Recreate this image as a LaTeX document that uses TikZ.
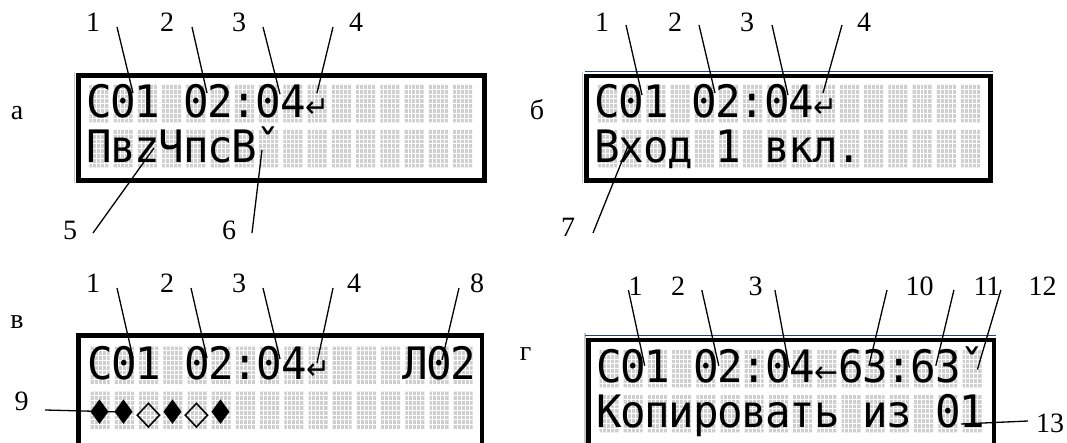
\documentclass[tikz,border=0pt]{standalone}
\usepackage{fontspec}
\setmainfont{Liberation Serif}
\newfontfamily\lcdfont{DejaVu Sans Mono}
\newfontfamily\symfont{DejaVu Sans}
\definecolor{lcdoff}{HTML}{CFCFCF}
\definecolor{navyline}{HTML}{24407A}
\definecolor{winedge}{HTML}{C8C8C8}
\tikzset{
  frame/.style={line width=4.5pt, line join=miter},
  leader/.style={line width=1.3pt},
  lbl/.style={anchor=base, inner sep=0pt, font=\fontsize{28}{28}\selectfont},
  lcdch/.style={anchor=base, inner sep=0pt, font=\lcdfont\fontsize{44.7}{44.7}\selectfont},
}
\newcommand\ret{{\symfont\fontsize{30}{30}\selectfont ↵}}
\newcommand\larr{{\symfont\fontsize{30}{30}\selectfont ←}}
\newcommand\crt{ˇ}
\newcommand\dia{{\symfont\fontsize{34}{34}\selectfont ♦}}
\newcommand\odia{{\symfont\fontsize{34}{34}\selectfont ◇}}
% grid of unlit dots: #1 x0, #2 row top, #3 pitch
\newcommand\lcdgrid[3]{%
  \fill[lcdoff] \foreach \c in {0,...,15} {({#1+\c*#3},#2) rectangle ++(19,37.4)};
  \draw[white,line width=1pt] \foreach \c in {0,...,15} {\foreach \d in {1,...,4} {({#1+\c*#3+\d*3.95-0.5},#2) -- ++(0,37.4)}};
  \draw[white,line width=1pt] \foreach \r in {1,...,7} {(#1,{#2+\r*4.8-0.5}) -- ++({16*#3},0)};
}
% characters: #1 name prefix, #2 x0, #3 pitch, #4 row top, #5 list
\newcommand\lcdrow[5]{%
  \foreach \ch [count=\i from 0] in {#5} {\node[lcdch] (#1\i) at ({#2+\i*#3+9.5},{#4+32.6}) {\scalebox{0.95}[1]{\ch}};}
}
\begin{document}
\begin{tikzpicture}[x=1pt,y=-1pt]
\fill[white] (0,0) rectangle (1067,443);
\useasboundingbox (0,0) rectangle (1067,443);

% ---------------- panel a ----------------
\draw[winedge,line width=1.2pt] (74.5,72) -- (74.5,183);
\lcdgrid{89.3}{85}{24.25}
\lcdgrid{89.3}{130}{24.25}
\lcdrow{Ar}{89.3}{24.25}{85}{C,0,1,,0,2,:,0,4,\ret}
\lcdrow{As}{89.3}{24.25}{130}{П,в,z,Ч,п,с,В,\crt}
\draw[frame] (78.5,75.5) rectangle (484.5,180.5);
\node[lbl] (La) at (17,120) {а};
\node[lbl] (a1) at (93,32) {1};
\node[lbl] (a2) at (167,32) {2};
\node[lbl] (a3) at (239,32) {3};
\node[lbl] (a4) at (356,32) {4};
\node[lbl] (a5) at (70,240) {5};
\node[lbl] (a6) at (229,240) {6};
\coordinate (a1s) at (117,27); \coordinate (a1e) at (133,93);
\coordinate (a2s) at (192,27); \coordinate (a2e) at (207,93);
\coordinate (a3s) at (263,27); \coordinate (a3e) at (280,94);
\coordinate (a4s) at (333,27); \coordinate (a4e) at (317,93);
\coordinate (a5s) at (93,233); \coordinate (a5e) at (154,148);
\coordinate (a6s) at (252,233); \coordinate (a6e) at (262,150);
\foreach \k in {1,...,6} {\draw[leader] (a\k s) -- (a\k e);}

% ---------------- panel b ----------------
\draw[winedge,line width=1.2pt] (582.5,72) -- (582.5,183);
\draw[navyline,line width=1pt] (585,71.5) -- (993,71.5);
\lcdgrid{598}{85}{24.2}
\lcdgrid{598}{130}{24.2}
\lcdrow{Br}{598}{24.2}{85}{C,0,1,,0,2,:,0,4,\ret}
\lcdrow{Bs}{598}{24.2}{130}{В,х,о,д,,1,,в,к,л,.}
\draw[frame] (586.5,76) rectangle (990.5,180.5);
\node[lbl] (Lb) at (537,120) {б};
\node[lbl] (b1) at (602,32) {1};
\node[lbl] (b2) at (675,32) {2};
\node[lbl] (b3) at (747,32) {3};
\node[lbl] (b4) at (864,32) {4};
\node[lbl] (b7) at (568,237) {7};
\coordinate (b1s) at (626,25); \coordinate (b1e) at (642,95);
\coordinate (b2s) at (699,25); \coordinate (b2e) at (715,93);
\coordinate (b3s) at (772,25); \coordinate (b3e) at (788,95);
\coordinate (b4s) at (842,25); \coordinate (b4e) at (823,93);
\coordinate (b7s) at (593,233); \coordinate (b7e) at (628,146);
\foreach \k in {1,2,3,4,7} {\draw[leader] (b\k s) -- (b\k e);}

% ---------------- panel v ----------------
\lcdgrid{90.7}{346.5}{24.2}
\lcdgrid{90.7}{391.5}{24.2}
\lcdrow{Vr}{90.7}{24.2}{346.5}{C,0,1,,0,2,:,0,4,\ret,,,,Л,0,2}
\lcdrow{Vs}{90.7}{24.2}{391.5}{\dia,\dia,\odia,\dia,\odia,\dia}
\draw[frame] (78.5,445) -- (78.5,335.5) -- (482,335.5) -- (482,445);
\node[lbl] (Lv) at (17,328) {в};
\node[lbl] (v1) at (93,293) {1};
\node[lbl] (v2) at (167,293) {2};
\node[lbl] (v3) at (239,293) {3};
\node[lbl] (v4) at (354,293) {4};
\node[lbl] (v8) at (477,293) {8};
\node[lbl] (v9) at (21.5,410) {9};
\coordinate (v1s) at (117,288); \coordinate (v1e) at (133,358);
\coordinate (v2s) at (191,288); \coordinate (v2e) at (207,358);
\coordinate (v3s) at (263,288); \coordinate (v3e) at (280,359);
\coordinate (v4s) at (333,288); \coordinate (v4e) at (317,363);
\coordinate (v8s) at (459,288); \coordinate (v8e) at (442,360);
\coordinate (v9s) at (45,410); \coordinate (v9e) at (122,412);
\foreach \k in {1,2,3,4,8,9} {\draw[leader] (v\k s) -- (v\k e);}

% ---------------- panel g ----------------
\draw[winedge,line width=1.2pt] (585,333) -- (585,445);
\draw[navyline,line width=1pt] (585,335) -- (996,335);
\lcdgrid{599.5}{350}{24.2}
\lcdgrid{599.5}{395}{24.2}
\lcdrow{Gr}{599.5}{24.2}{350}{C,0,1,,0,2,:,0,4,\larr,6,3,:,6,3,\crt}
\lcdrow{Gs}{599.5}{24.2}{395}{К,о,п,и,р,о,в,а,т,ь,,и,з,,0,1}
\draw[frame] (588.6,445) -- (588.6,340) -- (993.8,340) -- (993.8,445);
\node[lbl] (Lg) at (525.5,360) {г};
\node[lbl] (g1) at (635.6,295) {1};
\node[lbl] (g2) at (678,295) {2};
\node[lbl] (g3) at (755.7,295) {3};
\node[lbl] (g10) at (919.5,295) {10};
\node[lbl] (g11) at (987,295) {11};
\node[lbl] (g12) at (1042.5,295) {12};
\node[lbl] (g13) at (1050,432) {13};
\coordinate (g1s) at (628.4,290); \coordinate (g1e) at (644.7,365.8);
\coordinate (g2s) at (701.8,290); \coordinate (g2e) at (718.8,365.8);
\coordinate (g3s) at (774.9,290); \coordinate (g3e) at (789.3,367.6);
\coordinate (g10s) at (887,290); \coordinate (g10e) at (868.9,365.8);
\coordinate (g11s) at (953.9,290); \coordinate (g11e) at (935.8,365.8);
\coordinate (g12s) at (1000.9,290); \coordinate (g12e) at (977.4,369.5);
\coordinate (g13s) at (1028,421); \coordinate (g13e) at (961,424);
\foreach \k in {1,2,3,10,11,12,13} {\draw[leader] (g\k s) -- (g\k e);}
\end{tikzpicture}
\end{document}
